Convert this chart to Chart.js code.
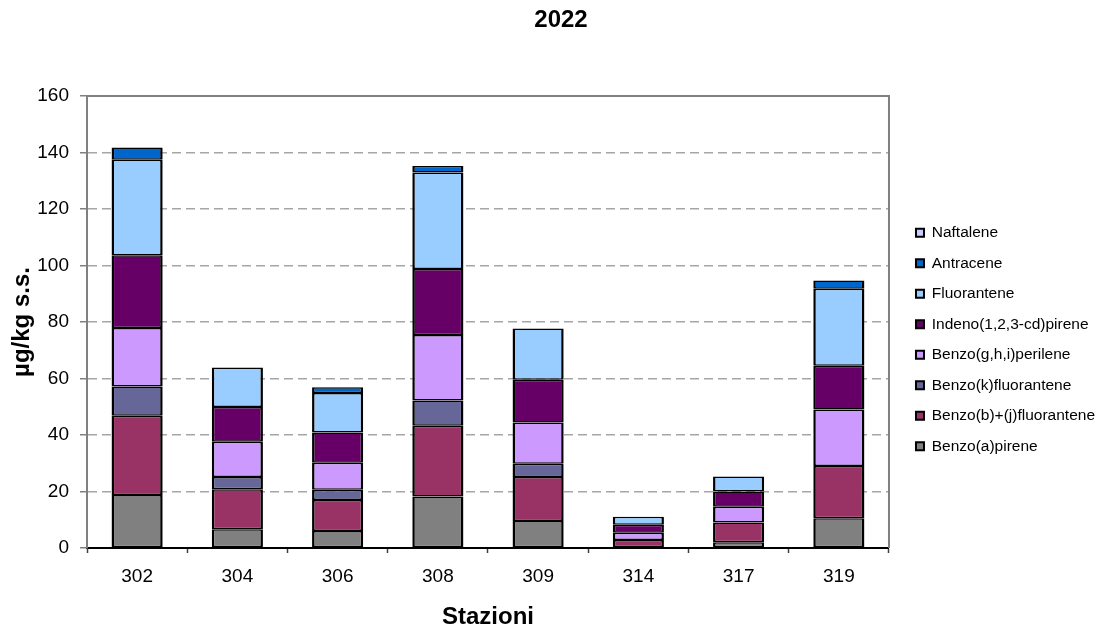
<!DOCTYPE html>
<html>
<head>
<meta charset="utf-8">
<script src="https://cdn.jsdelivr.net/npm/chart.js@4.4.1/dist/chart.umd.min.js"></script>
<style>
  html, body { margin: 0; padding: 0; background: #FFFFFF; }
  #wrap { width: 1099px; height: 632px; }
</style>
</head>
<body>
<div id="wrap"><canvas id="grafico" width="1099" height="632"></canvas></div>
<script>
const stazioni = ["302", "304", "306", "308", "309", "314", "317", "319"];
const yTicks = [0, 20, 40, 60, 80, 100, 120, 140, 160];

const benzoAPirene = [18.8, 6.6, 6.0, 18.2, 9.6, null, 2.0, 10.5];
const benzoBJFluorantene = [28.0, 14.2, 11.0, 25.1, 15.5, 2.8, 7.0, 18.5];
const benzoKFluorantene = [10.4, 4.3, 3.6, 8.9, 4.7, null, null, null];
const benzoGHIPerilene = [20.7, 12.5, 9.6, 23.2, 14.6, 2.6, 5.6, 20.0];
const indenoPirene = [25.7, 12.3, 10.7, 23.4, 15.2, 2.8, 5.4, 15.5];
const fluorantene = [33.8, 14.0, 14.0, 34.1, 18.1, 2.9, 5.3, 27.3];
const antracene = [4.4, null, 2.0, 2.3, null, null, null, 2.9];
const naftalene = [null, null, null, null, null, null, null, null];

Chart.defaults.font.family = "'Liberation Sans', Arial, sans-serif";
Chart.defaults.color = "#000000";

// top and right edge of the plot area
let cornice = {
    id: 'cornice',
    beforeDatasetsDraw: (chart) => {
        const a = chart.chartArea;
        const ctx = chart.ctx;
        ctx.save();
        ctx.strokeStyle = '#808080';
        ctx.lineWidth = 2;
        ctx.beginPath();
        ctx.moveTo(a.left, a.top);
        ctx.lineTo(a.right, a.top);
        ctx.lineTo(a.right, a.bottom);
        ctx.stroke();
        ctx.restore();
    },
    afterLayout: (chart) => {
        // title sits a bit right of the canvas centre
        chart.titleBlock.left += 15;
    }
};

function serie(label, data, colore){
    return {
        label: label,
        data: data,
        backgroundColor: colore,
        borderColor: '#000000',
        borderWidth: {top: 1.5, bottom: 1.5, left: 2.5, right: 2.5},
        borderSkipped: false,
        barPercentage: 0.51,
        categoryPercentage: 1.0
    };
}

let data = {
    labels: stazioni,
    datasets: [
        serie("Benzo(a)pirene", benzoAPirene, '#808080'),
        serie("Benzo(b)+(j)fluorantene", benzoBJFluorantene, '#993366'),
        serie("Benzo(k)fluorantene", benzoKFluorantene, '#666699'),
        serie("Benzo(g,h,i)perilene", benzoGHIPerilene, '#CC99FF'),
        serie("Indeno(1,2,3-cd)pirene", indenoPirene, '#660066'),
        serie("Fluorantene", fluorantene, '#99CCFF'),
        serie("Antracene", antracene, '#0066CC'),
        serie("Naftalene", naftalene, '#CCCCFF')
    ]
};

const grafico = new Chart(document.getElementById("grafico"), {
    type: 'bar',
    data: data,
    plugins: [cornice],
    options: {
        responsive: false,
        animation: false,
        layout: { padding: { left: 2, right: -6, top: 0, bottom: 0 } },
        plugins: {
            title: {
                display: true,
                text: "2022",
                font: { size: 24, weight: 'bold' },
                padding: { top: 5.6, bottom: 61.6 }
            },
            legend: {
                position: 'right',
                align: 'start',
                reverse: true,
                maxWidth: 300,
                title: {
                    display: true,
                    text: ' ',
                    font: { size: 12 },
                    padding: { top: 195.6, bottom: 0 }
                },
                labels: {
                    boxWidth: 8,
                    boxHeight: 8,
                    padding: 15,
                    font: { size: 15.5 },
                    color: '#000000'
                }
            },
            tooltip: { enabled: false }
        },
        scales: {
            x: {
                stacked: true,
                afterFit: (scale) => { scale.height = 84; },
                grid: {
                    display: true,
                    drawOnChartArea: false,
                    drawTicks: true,
                    tickLength: 5,
                    tickColor: '#404040',
                    tickWidth: 1.5
                },
                border: { display: true, color: '#000000', width: 2 },
                ticks: { font: { size: 19 }, padding: 12, color: '#000000' },
                title: {
                    display: true,
                    text: "Stazioni",
                    font: { size: 24, weight: 'bold' },
                    padding: { top: 15, bottom: 0 }
                }
            },
            y: {
                stacked: true,
                min: yTicks[0],
                max: yTicks[yTicks.length - 1],
                afterBuildTicks: (scale) => {
                    scale.ticks = yTicks.map(v => ({ value: v }));
                },
                afterFit: (scale) => { scale.width = 85; },
                grid: {
                    color: '#A6A6A6',
                    lineWidth: 1.5,
                    tickLength: 7,
                    tickColor: '#808080',
                    tickWidth: 1.5,
                    tickBorderDash: []
                },
                border: { display: true, color: '#808080', width: 2, dash: [9, 5] },
                ticks: { font: { size: 19 }, padding: 11, color: '#000000' },
                title: {
                    display: true,
                    text: "µg/kg s.s.",
                    font: { size: 24, weight: 'bold' },
                    padding: { top: 5.6, bottom: 1 }
                }
            },
            spazio: {
                type: 'linear',
                position: 'right',
                display: true,
                grid: { display: false },
                border: { display: false },
                ticks: { display: false },
                afterFit: (scale) => { scale.width = 12; }
            }
        }
    }
});
</script>
</body>
</html>
